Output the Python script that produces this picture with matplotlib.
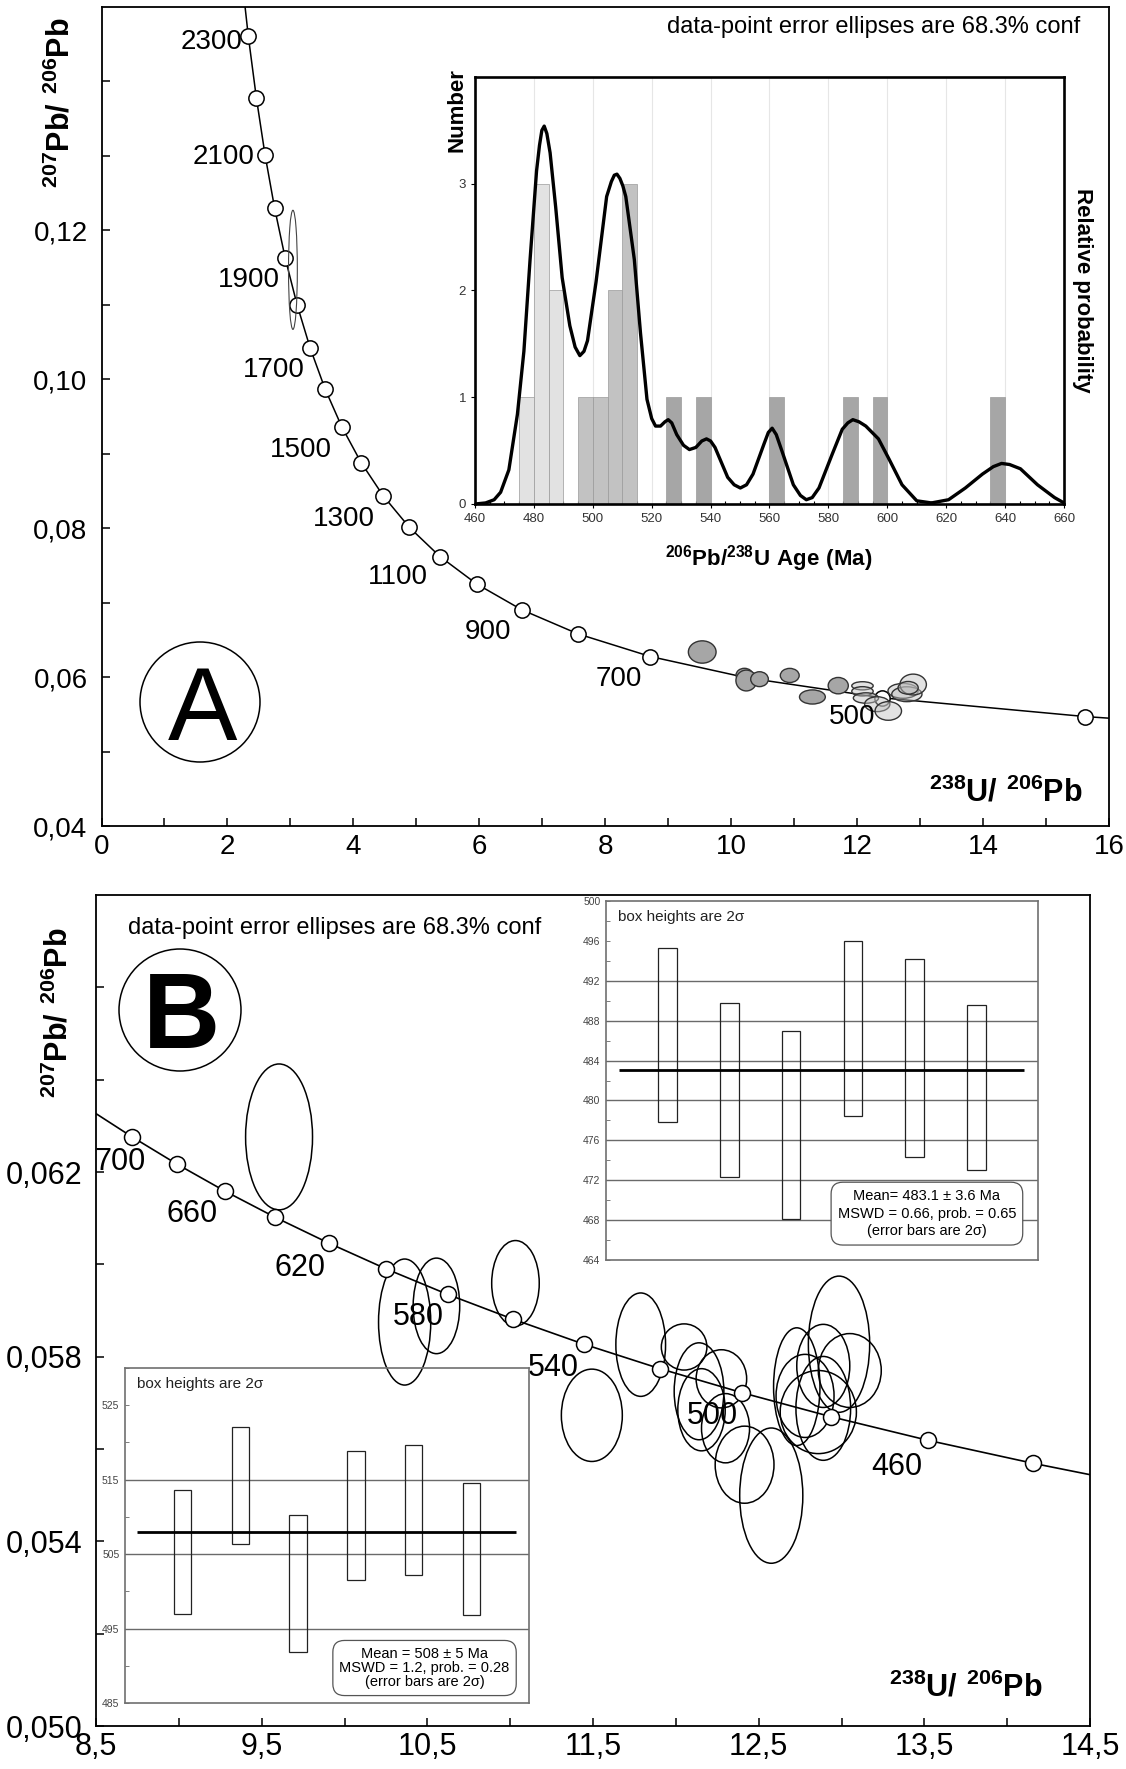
import matplotlib
matplotlib.use("Agg")
import matplotlib.pyplot as plt
from matplotlib.patches import Ellipse, Rectangle

plt.rcParams['font.family'] = ['Liberation Sans', 'DejaVu Sans']
plt.rcParams['mathtext.fontset'] = 'custom'
plt.rcParams['mathtext.rm'] = 'Liberation Sans'
plt.rcParams['mathtext.bf'] = 'Liberation Sans:bold'

# ---- panel A : concordia (238U/206Pb, 207Pb/206Pb), ages in Ma
conc_a_age = [2400, 2300, 2200, 2100, 2000, 1900, 1800, 1700, 1600, 1500, 1400,
              1300, 1200, 1100, 1000, 900, 800, 700, 600, 500, 400, 380]
conc_a_x = [2.217, 2.332, 2.459, 2.597, 2.749, 2.917, 3.105, 3.314, 3.550, 3.817, 4.123,
            4.476, 4.888, 5.375, 5.959, 6.674, 7.568, 8.718, 10.252, 12.399, 15.621, 16.469]
conc_a_y = [0.15483, 0.14604, 0.13782, 0.13015, 0.12299, 0.11629, 0.11004, 0.10419, 0.09871,
            0.09360, 0.08881, 0.08432, 0.08012, 0.07619, 0.07250, 0.06904, 0.06580, 0.06276,
            0.05990, 0.05722, 0.05470, 0.05421]
lab_a_age = [2300, 2100, 1900, 1700, 1500, 1300, 1100, 900, 700, 500]
lab_a_x = [2.245, 2.43, 2.84, 3.23, 3.66, 4.34, 5.19, 6.50, 8.59, 12.29]
lab_a_y = [0.1453, 0.1298, 0.1133, 0.1012, 0.0905, 0.0813, 0.0734, 0.0660, 0.0597, 0.0546]

# dark grey ellipses (x, y, width, height)
ell_a_dark_x = [10.21, 9.54, 10.24, 10.45, 10.93, 11.29, 11.70]
ell_a_dark_y = [0.06028, 0.06337, 0.05954, 0.05972, 0.06022, 0.05733, 0.05885]
ell_a_dark_w = [0.265, 0.44, 0.33, 0.28, 0.30, 0.41, 0.32]
ell_a_dark_h = [0.0018, 0.0030, 0.0028, 0.0020, 0.0019, 0.0019, 0.0022]
# light grey ellipses
ell_a_light_x = [12.085, 12.085, 12.14, 12.32, 12.495, 12.73, 12.79, 12.89, 12.81]
ell_a_light_y = [0.05883, 0.05809, 0.05719, 0.05636, 0.05545, 0.05815, 0.05770, 0.05900, 0.05856]
ell_a_light_w = [0.34, 0.34, 0.40, 0.40, 0.42, 0.48, 0.48, 0.42, 0.32]
ell_a_light_h = [0.0011, 0.00125, 0.0014, 0.0020, 0.0025, 0.0020, 0.0020, 0.0028, 0.0017]
# old discordant grain
ell_a_old = (3.04, 0.1147, 0.14, 0.016)

a_xticks = [0, 2, 4, 6, 8, 10, 12, 14, 16]
a_xticklabels = ['0', '2', '4', '6', '8', '10', '12', '14', '16']
a_yticks = [0.04, 0.06, 0.08, 0.10, 0.12]
a_yticklabels = ['0,04', '0,06', '0,08', '0,10', '0,12']

# ---- inset of panel A : histogram + probability curve
hist_left = [475, 480, 485, 495, 500, 505, 510, 525, 535, 560, 585, 595, 635]
hist_count = [1, 3, 2, 1, 1, 2, 3, 1, 1, 1, 1, 1, 1]
hist_group = [0, 0, 0, 1, 1, 1, 1, 2, 2, 2, 2, 2, 2]
prob_x = [460, 463.6, 466.5, 468.7, 471.5, 474.4, 476.6, 478.7, 480.9, 481.9, 482.7, 483.5,
          484.4, 485.5, 487.4, 489.6, 492.2, 494.0, 495.6, 497.0, 498.2, 501.1, 504.7, 506.3,
          507.3, 508.2, 509.2, 510.2, 511.2, 514.1, 516.2, 518.4, 520.0, 521.3, 523.0, 524.5,
          525.6, 526.8, 528.5, 530.8, 532.8, 535.0, 537.0, 538.6, 540.0, 541.5, 545.8, 548.0,
          550.1, 552.2, 554.4, 558.1, 559.6, 560.9, 562.3, 564.3, 568.1, 570.5, 572.5, 574.5,
          576.8, 581.2, 584.7, 586.6, 588.3, 590.4, 592.7, 597.0, 600.6, 605.0, 610.0, 615.0,
          620.8, 626.5, 632.3, 636.0, 638.8, 641.5, 645.2, 651.0, 656.8, 660]
prob_y = [0, 0.01, 0.04, 0.11, 0.32, 0.84, 1.43, 2.29, 3.12, 3.36, 3.50, 3.54,
          3.47, 3.29, 2.78, 2.12, 1.67, 1.47, 1.39, 1.43, 1.53, 2.08, 2.88, 3.02,
          3.08, 3.09, 3.05, 2.98, 2.88, 2.29, 1.60, 0.98, 0.80, 0.73, 0.73, 0.77,
          0.79, 0.76, 0.65, 0.55, 0.51, 0.53, 0.59, 0.61, 0.59, 0.53, 0.25, 0.18,
          0.15, 0.18, 0.28, 0.56, 0.67, 0.71, 0.65, 0.49, 0.18, 0.08, 0.04, 0.06,
          0.15, 0.46, 0.70, 0.76, 0.79, 0.77, 0.73, 0.61, 0.42, 0.18, 0.03, 0.01,
          0.04, 0.15, 0.28, 0.35, 0.38, 0.37, 0.33, 0.18, 0.06, 0.01]

# ---- panel B : concordia detail
conc_b_age = [720, 700, 680, 660, 640, 620, 600, 580, 560, 540, 520, 500, 480, 460, 440, 420]
conc_b_x = [8.463, 8.718, 8.989, 9.276, 9.581, 9.905, 10.252, 10.622, 11.019, 11.445,
            11.904, 12.399, 12.936, 13.520, 14.157, 14.854]
conc_b_y = [0.06335, 0.06276, 0.06217, 0.06159, 0.06102, 0.06046, 0.05990, 0.05935, 0.05881,
            0.05827, 0.05774, 0.05722, 0.05670, 0.05619, 0.05569, 0.05519]
lab_b_age = [700, 660, 620, 580, 540, 500, 460]
lab_b_x = [8.80, 9.233, 9.883, 10.597, 11.412, 12.373, 13.486]
lab_b_y = [0.06221, 0.06108, 0.05992, 0.05887, 0.05775, 0.05671, 0.05562]

ell_b_x = [9.605, 10.363, 10.555, 11.032, 11.788, 11.493, 12.05, 12.14, 12.275, 12.155, 12.30,
           12.415, 12.576, 12.985, 12.73, 12.89, 13.05, 12.78, 12.86, 12.89]
ell_b_y = [0.06276, 0.05875, 0.05910, 0.05959, 0.05826, 0.05673, 0.05821, 0.05725, 0.05752,
           0.05685, 0.05645, 0.05566, 0.05499, 0.05827, 0.05735, 0.05780, 0.05770, 0.05715,
           0.05680, 0.05688]
ell_b_w = [0.404, 0.315, 0.281, 0.287, 0.30, 0.368, 0.275, 0.30, 0.305, 0.286, 0.29,
           0.355, 0.381, 0.37, 0.28, 0.32, 0.38, 0.35, 0.46, 0.33]
ell_b_h = [0.00316, 0.00273, 0.00207, 0.00185, 0.00224, 0.0020, 0.0010, 0.0021, 0.00126,
           0.00178, 0.0015, 0.00167, 0.00293, 0.00295, 0.00255, 0.0018, 0.0016, 0.0018,
           0.0018, 0.00225]

b_xticks = [8.5, 9.5, 10.5, 11.5, 12.5, 13.5, 14.5]
b_xticklabels = ['8,5', '9,5', '10,5', '11,5', '12,5', '13,5', '14,5']
b_yticks = [0.050, 0.054, 0.058, 0.062]
b_yticklabels = ['0,050', '0,054', '0,058', '0,062']

# ---- weighted mean insets (box = 2 sigma)
wm1_lo = [477.8, 472.3, 468.1, 478.4, 474.3, 473.0]
wm1_hi = [495.3, 489.8, 487.0, 496.0, 494.2, 489.6]
wm1_mean = 483.1
wm1_text = 'Mean= 483.1 ± 3.6 Ma\nMSWD = 0.66, prob. = 0.65\n(error bars are 2σ)'
wm2_lo = [497.0, 506.4, 491.8, 501.5, 502.2, 496.8]
wm2_hi = [513.6, 522.1, 510.3, 518.9, 519.7, 514.6]
wm2_mean = 508
wm2_text = 'Mean = 508 ± 5 Ma\nMSWD = 1.2, prob. = 0.28\n(error bars are 2σ)'

W, H = 1126, 1769
fig = plt.figure(figsize=(W / 100, H / 100), dpi=100)


def px_axes(left, top, right, bottom):
    return fig.add_axes([left / W, 1 - bottom / H, (right - left) / W, (bottom - top) / H])


def ftext(x, y, s, **kw):
    return fig.text(x / W, 1 - y / H, s, **kw)


def frame_circle(cx, cy, r):
    fig.add_artist(Ellipse((cx / W, 1 - cy / H), 2 * r / W, 2 * r / H,
                           transform=fig.transFigure, fill=False, lw=1.1, color='k'))


# ================= panel A
axA = px_axes(101.5, 7, 1109, 826)
axA.set_xlim(0, 16)
axA.set_ylim(0.04, 0.15)
axA.plot(conc_a_x, conc_a_y, color='k', lw=1.1, zorder=2)
axA.plot(conc_a_x[1:-1], conc_a_y[1:-1], 'o', ms=11, mfc='white', mec='k', mew=1.1, zorder=3)
for age, x, y in zip(lab_a_age, lab_a_x, lab_a_y):
    axA.text(x, y, str(age), ha='right', va='center', fontsize=20, zorder=5)
for x, y, w, h in zip(ell_a_dark_x, ell_a_dark_y, ell_a_dark_w, ell_a_dark_h):
    axA.add_patch(Ellipse((x, y), w, h, fc='#a6a6a6', ec='#333333', lw=1.0, zorder=4))
for x, y, w, h in zip(ell_a_light_x, ell_a_light_y, ell_a_light_w, ell_a_light_h):
    axA.add_patch(Ellipse((x, y), w, h, fc=(0.75, 0.75, 0.75, 0.45), ec='#333333', lw=1.0, zorder=4))
axA.add_patch(Ellipse(ell_a_old[:2], ell_a_old[2], ell_a_old[3], fill=False, ec='#444444', lw=0.8, zorder=4))

axA.set_xticks(a_xticks)
axA.set_xticklabels(a_xticklabels)
axA.set_xticks([1, 3, 5, 7, 9, 11, 13, 15], minor=True)
axA.set_yticks(a_yticks)
axA.set_yticklabels(a_yticklabels)
axA.set_yticks([0.05, 0.07, 0.09, 0.11, 0.13, 0.14], minor=True)
axA.tick_params(which='both', direction='in', length=6, width=1.1, labelsize=20)
axA.tick_params(axis='x', pad=6)
axA.tick_params(axis='y', pad=10)
for sp in axA.spines.values():
    sp.set_linewidth(1.3)

ftext(1080, 27, 'data-point error ellipses are 68.3% conf', ha='right', va='center', fontsize=17)
frame_circle(200, 702, 60)
ftext(203, 740, 'A', ha='center', va='baseline', fontsize=75)
ftext(1006, 793, r'$^{\mathbf{238}}\mathbf{U/}\ ^{\mathbf{206}}\mathbf{Pb}$', ha='center', va='center', fontsize=22)
ftext(61, 103, r'$^{\mathbf{207}}\mathbf{Pb/}\ ^{\mathbf{206}}\mathbf{Pb}$', ha='center', va='center',
      fontsize=22, rotation=90)

# ---- histogram inset
insA = px_axes(475, 77, 1064, 504)
group_colors = ['#e2e2e2', '#c2c2c2', '#a6a6a6']
insA.bar(hist_left, hist_count, width=5, align='edge',
         color=[group_colors[g] for g in hist_group], edgecolor='#9a9a9a', lw=0.5, zorder=2)
insA.plot(prob_x, prob_y, color='k', lw=2.4, zorder=3, solid_joinstyle='round')
insA.set_xlim(460, 660)
insA.set_ylim(0, 4)
insA.set_xticks(range(460, 661, 20))
insA.set_xticks(range(465, 660, 5), minor=True)
insA.set_yticks([0, 1, 2, 3])
insA.grid(axis='x', color='#e6e6e6', lw=0.8, zorder=0)
insA.set_axisbelow(True)
insA.tick_params(which='both', labelsize=9.5, labelcolor='#333333', width=0.8, length=3, direction='out')
insA.tick_params(which='minor', length=2, direction='in')
for sp in insA.spines.values():
    sp.set_linewidth(1.9)
ftext(457, 110, 'Number', ha='center', va='center', rotation=90, fontsize=16, fontweight='bold')
ftext(1082, 290, 'Relative probability', ha='center', va='center', rotation=270,
      fontsize=16, fontweight='bold')
ftext(769, 559, r'$^{\mathbf{206}}\mathbf{Pb/}^{\mathbf{238}}\mathbf{U\ Age\ (Ma)}$',
      ha='center', va='center', fontsize=16)

# ================= panel B
axB = px_axes(96, 895, 1090, 1726)
axB.set_xlim(8.5, 14.5)
axB.set_ylim(0.050, 0.068)
axB.plot(conc_b_x, conc_b_y, color='k', lw=1.2, zorder=2)
for x, y, w, h in zip(ell_b_x, ell_b_y, ell_b_w, ell_b_h):
    axB.add_patch(Ellipse((x, y), w, h, fill=False, ec='k', lw=1.1, zorder=3))
axB.plot(conc_b_x[1:-1], conc_b_y[1:-1], 'o', ms=11.5, mfc='white', mec='k', mew=1.1, zorder=4)
for age, x, y in zip(lab_b_age, lab_b_x, lab_b_y):
    axB.text(x, y, str(age), ha='right', va='center', fontsize=22, zorder=5)
axB.set_xticks(b_xticks)
axB.set_xticklabels(b_xticklabels)
axB.set_xticks([9, 10, 11, 12, 13, 14], minor=True)
axB.set_yticks(b_yticks)
axB.set_yticklabels(b_yticklabels)
axB.set_yticks([0.052, 0.056, 0.060, 0.064, 0.066], minor=True)
axB.tick_params(which='both', direction='in', length=6, width=1.1, labelsize=22)
axB.tick_params(axis='x', pad=4)
axB.tick_params(axis='y', pad=10)
for sp in axB.spines.values():
    sp.set_linewidth(1.3)

ftext(128, 928, 'data-point error ellipses are 68.3% conf', ha='left', va='center', fontsize=17)
frame_circle(180, 1010, 61)
ftext(182, 1048, 'B', ha='center', va='baseline', fontsize=77, fontweight='bold')
ftext(966, 1688, r'$^{\mathbf{238}}\mathbf{U/}\ ^{\mathbf{206}}\mathbf{Pb}$', ha='center', va='center', fontsize=22)
ftext(59, 1013, r'$^{\mathbf{207}}\mathbf{Pb/}\ ^{\mathbf{206}}\mathbf{Pb}$', ha='center', va='center',
      fontsize=22, rotation=90)


def mean_inset(rect, lo, hi, mean, ylim, major, minor, grid, stats, stats_xy, lsp, note_y):
    ax = px_axes(*rect)
    ax.set_facecolor('none')
    ax.set_xlim(0, 7)
    ax.set_ylim(*ylim)
    for g in grid:
        ax.axhline(g, color='#6a6a6a', lw=1.0, zorder=1)
    for i, (a, b) in enumerate(zip(lo, hi)):
        ax.add_patch(Rectangle((i + 1 - 0.15, a), 0.3, b - a, fill=False, ec='#222222', lw=0.9, zorder=2))
    ax.hlines(mean, 0.21, 6.78, color='k', lw=2.0, zorder=3)
    ax.set_xticks([])
    ax.set_yticks(major)
    ax.set_yticks(minor, minor=True)
    ax.tick_params(which='both', direction='in', length=3, width=0.6, labelsize=7.5,
                   labelcolor='#444444', color='#666666', pad=4)
    for sp in ax.spines.values():
        sp.set_linewidth(1.2)
        sp.set_color('#707070')
    ax.text(0.2, note_y, 'box heights are 2σ', ha='left', va='center', fontsize=11, color='#222222')
    ax.text(stats_xy[0], stats_xy[1], stats, ha='center', va='center', fontsize=10.5,
            linespacing=lsp, multialignment='center', zorder=5,
            bbox=dict(boxstyle='round,pad=0.45,rounding_size=0.8', fc='white', ec='#555555', lw=0.9))
    return ax


mean_inset((606, 901, 1038, 1260), wm1_lo, wm1_hi, wm1_mean, (464, 500),
           list(range(464, 501, 4)), list(range(466, 500, 2)), list(range(468, 493, 4)),
           wm1_text, (5.2, 468.65), 1.35, 498.4)
mean_inset((125, 1368, 529, 1703), wm2_lo, wm2_hi, wm2_mean, (485, 530),
           list(range(485, 526, 10)), list(range(490, 531, 10)), [495, 505, 515],
           wm2_text, (5.19, 489.7), 1.0, 527.9)

fig.savefig('out.png', dpi=100)
